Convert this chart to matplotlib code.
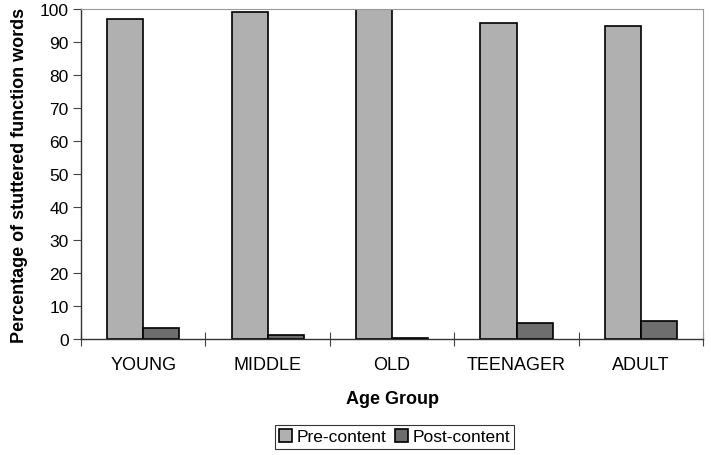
import numpy as np
import matplotlib.pyplot as plt

plt.rcParams["font.family"] = ["Liberation Sans", "DejaVu Sans"]

groups = ["YOUNG", "MIDDLE", "OLD", "TEENAGER", "ADULT"]
pre_content = [97.0, 99.0, 100.0, 95.7, 94.8]
post_content = [3.3, 1.3, 0.3, 4.8, 5.4]


def main():
    fig = plt.figure(figsize=(7.11, 4.56), dpi=100)
    ax = fig.add_axes([0.114, 0.254, 0.875, 0.724])

    x = np.arange(len(groups))
    w = 0.29
    ax.bar(x - w / 2, pre_content, w, color="#b0b0b0", edgecolor="black",
           linewidth=1.2, label="Pre-content")
    ax.bar(x + w / 2, post_content, w, color="#6e6e6e", edgecolor="black",
           linewidth=1.2, label="Post-content")

    ax.set_xlim(-0.5, len(groups) - 0.5)
    ax.set_ylim(0, 100)
    ax.set_yticks(range(0, 101, 10))
    ax.set_xticks(x)
    ax.set_xticklabels(groups, fontsize=13)
    ax.tick_params(axis="x", length=0, pad=12)
    ax.set_xticks(np.arange(-0.5, len(groups)), minor=True)
    ax.tick_params(axis="x", which="minor", direction="inout", length=10,
                   width=0.8, color="#444444")
    ax.tick_params(axis="y", labelsize=12.5, length=6, width=0.8,
                   color="#444444", pad=3)

    for side in ["top", "right"]:
        ax.spines[side].set_color("#999999")
        ax.spines[side].set_linewidth(0.8)
    for side in ["left", "bottom"]:
        ax.spines[side].set_color("#333333")
        ax.spines[side].set_linewidth(1.0)

    ax.set_xlabel("Age Group", fontsize=13, fontweight="bold", labelpad=12)
    ax.set_ylabel("Percentage of stuttered function words", fontsize=13,
                  fontweight="bold", labelpad=8)

    leg = fig.legend(loc="center", bbox_to_anchor=(0.555, 0.04), ncol=2,
                     fontsize=12.5, frameon=True, fancybox=False,
                     handlelength=0.75, handleheight=0.75, handletextpad=0.25,
                     columnspacing=0.5, borderpad=0.25, borderaxespad=0)
    leg.get_frame().set_edgecolor("black")
    leg.get_frame().set_linewidth(0.8)

    fig.savefig("out.png", dpi=100)


if __name__ == "__main__":
    main()
